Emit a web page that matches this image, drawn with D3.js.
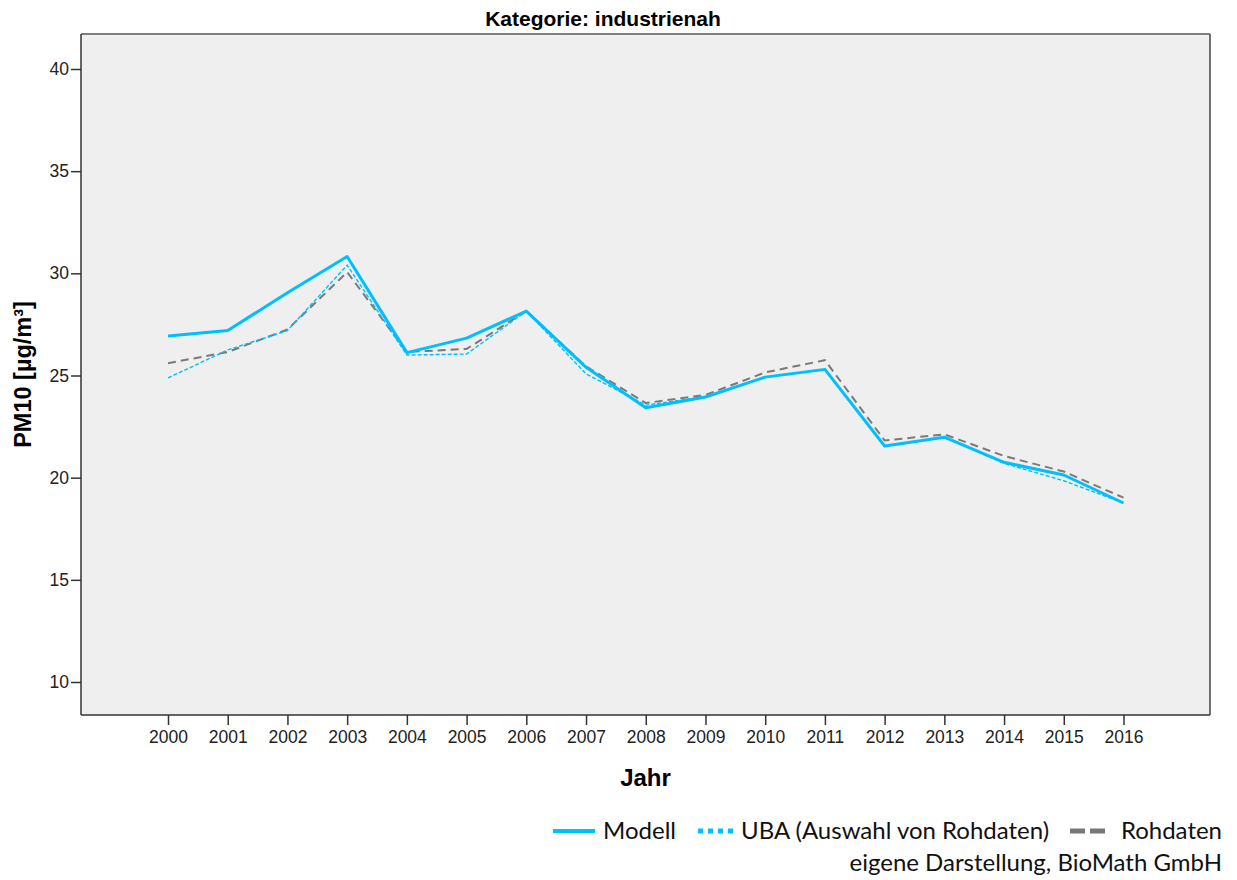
<!DOCTYPE html>
<html><head><meta charset="utf-8">
<script src="https://cdn.jsdelivr.net/npm/d3@7"></script>
<style>body{margin:0;background:#fff}svg{display:block}</style>
</head><body><svg id="c" width="1237" height="880"></svg>
<script>
const years = ["2000","2001","2002","2003","2004","2005","2006","2007","2008","2009","2010","2011","2012","2013","2014","2015","2016"];
const modell = [26.93,27.2,29.05,30.82,26.12,26.83,28.15,25.4,23.42,23.95,24.92,25.3,21.55,21.98,20.75,20.13,18.76];
const uba = [24.88,26.25,27.2,30.4,26.0,26.05,28.15,25.08,23.55,23.97,24.92,25.3,21.55,21.98,20.7,19.85,18.76];
const rohdaten = [25.6,26.15,27.25,30.06,26.15,26.3,28.15,25.45,23.65,24.05,25.15,25.75,21.82,22.12,21.06,20.3,19.02];
const yTicks = [10,15,20,25,30,35,40];
const title = "Kategorie: industrienah";
const yLabel = "PM10 [µg/m³]";
const xLabel = "Jahr";
const legendLabels = ["Modell","UBA (Auswahl von Rohdaten)","Rohdaten"];
const credit = "eigene Darstellung, BioMath GmbH";

const svg = d3.select("#c");
const L=81,T=34,R=1210,B=715;
const x = d3.scalePoint().domain(years).range([168,1123.5]);
const y = d3.scaleLinear().domain([10,40]).range([682,69]);
const cyan="#00bfff", gray="#7a7a7a";
const af = "Liberation Sans, Arial, sans-serif";

svg.append("rect").attr("x",L).attr("y",T).attr("width",R-L).attr("height",B-T).attr("fill","#efefef");
svg.append("line").attr("x1",L).attr("x2",R).attr("y1",T).attr("y2",T).attr("stroke","#7f7f7f").attr("stroke-width",2);
svg.append("line").attr("x1",R).attr("x2",R).attr("y1",T).attr("y2",B).attr("stroke","#444").attr("stroke-width",1.5);

const ya = svg.append("g").attr("transform",`translate(${L},0)`)
  .call(d3.axisLeft(y).tickValues(yTicks).tickSize(10).tickPadding(2));
const xa = svg.append("g").attr("transform",`translate(0,${B})`)
  .call(d3.axisBottom(x).tickSize(10).tickPadding(6));
[ya,xa].forEach(a=>{
  a.select(".domain").remove();
  a.selectAll("line").attr("stroke","#333").attr("stroke-width",1.5);
  a.selectAll("text").attr("font-family",af).attr("font-size",17.5).attr("fill","#222");
});
svg.append("line").attr("x1",L).attr("x2",L).attr("y1",T).attr("y2",B).attr("stroke","#333").attr("stroke-width",1.5);
svg.append("line").attr("x1",L).attr("x2",R).attr("y1",B).attr("y2",B).attr("stroke","#333").attr("stroke-width",1.5);

const line = d3.line().x((d,i)=>x(years[i])).y(d=>y(d));
svg.append("path").datum(rohdaten).attr("d",line).attr("fill","none").attr("stroke",gray).attr("stroke-width",2).attr("stroke-dasharray","8,5");
svg.append("path").datum(uba).attr("d",line).attr("fill","none").attr("stroke",cyan).attr("stroke-width",1.4).attr("stroke-dasharray","4,2");
svg.append("path").datum(modell).attr("d",line).attr("fill","none").attr("stroke",cyan).attr("stroke-width",3).attr("stroke-linejoin","round");

svg.append("text").attr("x",603).attr("y",26).attr("text-anchor","middle")
  .attr("font-family",af).attr("font-weight","bold").attr("font-size",21).text(title);
svg.append("text").attr("transform",`translate(31,${(T+B)/2}) rotate(-90)`).attr("text-anchor","middle")
  .attr("font-family",af).attr("font-weight","bold").attr("font-size",23.5).text(yLabel);
svg.append("text").attr("x",(L+R)/2).attr("y",786).attr("text-anchor","middle")
  .attr("font-family",af).attr("font-weight","bold").attr("font-size",24).text(xLabel);

// legend
const lf = "Lato, Open Sans, sans-serif";
const lg = svg.append("g");
lg.append("line").attr("x1",553).attr("x2",595).attr("y1",831).attr("y2",831).attr("stroke",cyan).attr("stroke-width",4);
lg.append("text").attr("x",603).attr("y",839).attr("font-family",lf).attr("font-size",24).attr("fill","#111").text(legendLabels[0]);
lg.append("line").attr("x1",698).attr("x2",738).attr("y1",831).attr("y2",831).attr("stroke",cyan).attr("stroke-width",5).attr("stroke-dasharray","5,5");
lg.append("text").attr("x",741).attr("y",839).attr("font-family",lf).attr("font-size",24).attr("fill","#111").text(legendLabels[1]);
lg.append("line").attr("x1",1070).attr("x2",1110).attr("y1",831).attr("y2",831).attr("stroke","#777").attr("stroke-width",5).attr("stroke-dasharray","15,5");
lg.append("text").attr("x",1222).attr("y",839).attr("text-anchor","end").attr("font-family",lf).attr("font-size",24).attr("fill","#111").text(legendLabels[2]);
lg.append("text").attr("x",1222).attr("y",871).attr("text-anchor","end").attr("font-family",lf).attr("font-size",24).attr("fill","#111").text(credit);
</script></body></html>
